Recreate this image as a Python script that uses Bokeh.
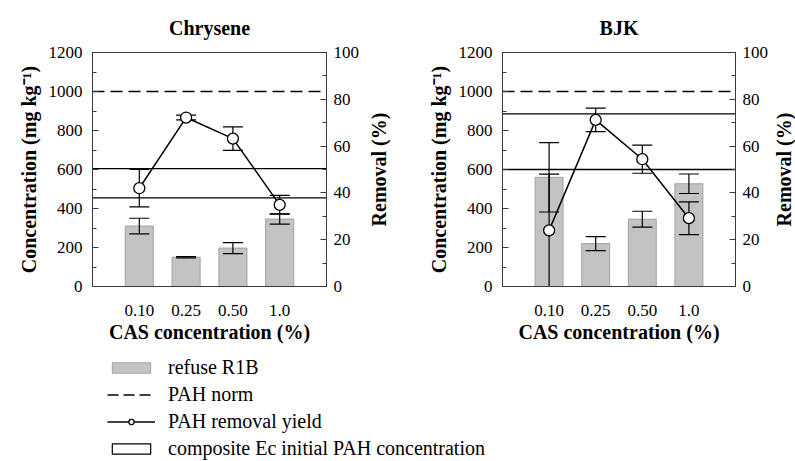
import math
from bokeh.plotting import figure
from bokeh.models import (Range1d, LinearAxis, FixedTicker, Span, ColumnDataSource,
                          Legend, LegendItem, Title, Label)
from bokeh.layouts import column, row
from bokeh.embed import file_html
from bokeh.resources import INLINE

# ---------------- data ----------------
categories = ["0.10", "0.25", "0.50", "1.0"]
cat_pos = [1, 2, 3, 4]

chrysene_conc = [310, 150, 197, 346]
chrysene_conc_err = [40, 3, 28, 26]
chrysene_removal = [42.0, 72.2, 63.2, 34.9]
chrysene_removal_err = [8.0, 1.0, 5.0, 4.0]
chrysene_initial = [605, 455]

bjk_conc = [560, 220, 345, 527]
bjk_conc_err = [178, 36, 41, 50]
bjk_removal = [24.0, 71.2, 54.4, 29.2]
bjk_removal_err = [24.0, 5.0, 6.0, 7.0]
bjk_initial = [885, 600]

pah_norm = 1000

conc_ticks = [0, 200, 400, 600, 800, 1000, 1200]
conc_minor = [100, 300, 500, 700, 900, 1100]
rem_ticks = [0, 20, 40, 60, 80, 100]
rem_minor = [10, 30, 50, 70, 90]

legend_labels = ["refuse R1B", "PAH norm", "PAH removal yield",
                 "composite Ec initial PAH concentration"]

FONT = "'Liberation Serif', 'Times New Roman', serif"
AXC = "#3a3a3a"
NAN = float("nan")
TOP, BOTTOM, TOPH = 52, 59, 345


def style_axis(ax, tick_in=True):
    ax.axis_line_color = AXC
    ax.major_tick_line_color = AXC
    ax.minor_tick_line_color = AXC
    ax.major_tick_out = 0
    ax.minor_tick_out = 0
    ax.major_tick_in = 6 if tick_in else 0
    ax.minor_tick_in = 4 if tick_in else 0
    ax.major_label_text_font = FONT
    ax.major_label_text_font_size = "17px"
    ax.major_label_text_color = "black"
    ax.axis_label_text_font = FONT
    ax.axis_label_text_font_size = "20px"
    ax.axis_label_text_font_style = "bold"
    ax.axis_label_text_color = "black"


def panel(title, conc, conc_err, rem, rem_err, initial, width, lb, rb):
    p = figure(width=width, height=TOPH, x_range=Range1d(0, 5), y_range=Range1d(0, 1200),
               x_axis_type=None, y_axis_type=None, output_backend="svg",
               toolbar_location=None, min_border_left=lb, min_border_right=rb,
               min_border_top=TOP, min_border_bottom=BOTTOM)
    p.extra_y_ranges = {"rem": Range1d(0, 100)}
    p.xgrid.visible = False
    p.ygrid.visible = False
    p.outline_line_color = AXC
    p.background_fill_color = "white"
    p.border_fill_color = "white"

    t = Title(text=title, align="center", text_font=FONT, text_font_size="20px",
              text_font_style="bold", text_color="black", standoff=27)
    p.add_layout(t, "above")

    # axes
    xa = LinearAxis(ticker=FixedTicker(ticks=cat_pos),
                    major_label_overrides={c: l for c, l in zip(cat_pos, categories)},
                    axis_label="CAS concentration (%)")
    style_axis(xa, tick_in=False)
    xa.major_label_standoff = 18
    xa.axis_label_standoff = 2
    p.add_layout(xa, "below")

    ya = LinearAxis(ticker=FixedTicker(ticks=conc_ticks, minor_ticks=conc_minor),
                    axis_label="Concentration (mg kg\u207b\u00b9)")
    style_axis(ya)
    ya.major_label_standoff = 10
    ya.axis_label_standoff = 6
    p.add_layout(ya, "left")

    ra = LinearAxis(y_range_name="rem",
                    ticker=FixedTicker(ticks=rem_ticks, minor_ticks=rem_minor))
    style_axis(ra)
    ra.major_label_standoff = 7
    p.add_layout(ra, "right")

    # reference lines
    p.add_layout(Span(location=pah_norm, dimension="width", line_color="black",
                      line_width=1.3, line_dash="12 6", level="underlay"))
    for v in initial:
        p.add_layout(Span(location=v, dimension="width", line_color="black",
                          line_width=1.3, level="underlay"))

    # bars
    src = ColumnDataSource(dict(
        x=cat_pos, conc=conc,
        c_lo=[c - e for c, e in zip(conc, conc_err)],
        c_hi=[c + e for c, e in zip(conc, conc_err)],
        rem=rem,
        r_lo=[max(r - e, 0) for r, e in zip(rem, rem_err)],
        r_hi=[r + e for r, e in zip(rem, rem_err)],
    ))
    p.vbar(x="x", top="conc", bottom=0, width=0.6, source=src,
           fill_color="#c3c3c3", line_color="#a3a3a3", line_width=1)
    p.segment(x0="x", y0="c_lo", x1="x", y1="c_hi", source=src,
              line_color="black", line_width=1.2)
    p.scatter(x="x", y="c_lo", marker="dash", size=20, source=src,
              line_color="black", line_width=1.2)
    p.scatter(x="x", y="c_hi", marker="dash", size=20, source=src,
              line_color="black", line_width=1.2)

    # removal yield
    p.segment(x0="x", y0="r_lo", x1="x", y1="r_hi", source=src, y_range_name="rem",
              line_color="black", line_width=1.2)
    p.scatter(x="x", y="r_lo", marker="dash", size=20, source=src, y_range_name="rem",
              line_color="black", line_width=1.2)
    p.scatter(x="x", y="r_hi", marker="dash", size=20, source=src, y_range_name="rem",
              line_color="black", line_width=1.2)
    p.line(x="x", y="rem", source=src, y_range_name="rem", line_color="black",
           line_width=1.5)
    p.scatter(x="x", y="rem", source=src, y_range_name="rem", marker="circle",
              size=11, fill_color="white", line_color="black", line_width=1.3)
    return p


def right_title(width, text="Removal (%)"):
    # narrow strip holding the right axis title, reading bottom-to-top
    f = figure(width=width, height=TOPH, x_range=Range1d(0, 1), y_range=Range1d(0, 1),
               x_axis_type=None, y_axis_type=None, output_backend="svg",
               toolbar_location=None, min_border_left=0, min_border_right=0,
               min_border_top=TOP, min_border_bottom=BOTTOM)
    f.xgrid.visible = False
    f.ygrid.visible = False
    f.outline_line_color = None
    f.add_layout(Label(x=0.5, y=0.5, text=text, angle=math.pi / 2,
                       text_align="center", text_baseline="middle", text_font=FONT,
                       text_font_size="20px", text_font_style="bold",
                       text_color="black"))
    return f


p1 = panel("Chrysene", chrysene_conc, chrysene_conc_err, chrysene_removal,
           chrysene_removal_err, chrysene_initial, 363, 92, 37)
t1 = right_title(30)
p2 = panel("BJK", bjk_conc, bjk_conc_err, bjk_removal, bjk_removal_err,
           bjk_initial, 378, 109, 35)
t2 = right_title(24)

# legend figure (proxy renderers hold no drawable values)
p3 = figure(width=795, height=116, x_range=Range1d(0, 1), y_range=Range1d(0, 1),
            x_axis_type=None, y_axis_type=None, output_backend="svg",
            toolbar_location=None, min_border=0)
p3.xgrid.visible = False
p3.ygrid.visible = False
p3.outline_line_color = None
r_bar = p3.vbar(x=[NAN], top=[NAN], width=0.1, fill_color="#c3c3c3", line_color="#a3a3a3")
r_norm = p3.line(x=[NAN], y=[NAN], line_color="black", line_width=1.3, line_dash="11 5")
r_line = p3.line(x=[NAN], y=[NAN], line_color="black", line_width=1.3)
r_circ = p3.scatter(x=[NAN], y=[NAN], marker="circle", size=7, fill_color="white",
                    line_color="black", line_width=1.2)
r_box = p3.vbar(x=[NAN], top=[NAN], width=0.1, fill_color="white", line_color="black",
                line_width=1.2)
legend = Legend(items=[
    LegendItem(label=legend_labels[0], renderers=[r_bar]),
    LegendItem(label=legend_labels[1], renderers=[r_norm]),
    LegendItem(label=legend_labels[2], renderers=[r_line, r_circ]),
    LegendItem(label=legend_labels[3], renderers=[r_box]),
], location=(107, 1), orientation="vertical", glyph_width=48, glyph_height=13,
    label_standoff=13, spacing=4, padding=0, margin=0,
    label_text_font=FONT, label_text_font_size="20px", label_text_color="black",
    border_line_color=None, background_fill_alpha=0)
p3.add_layout(legend, "center")

layout = column(row(p1, t1, p2, t2, spacing=0), p3, spacing=0)
open("out.html", "w").write(file_html(layout, INLINE))
